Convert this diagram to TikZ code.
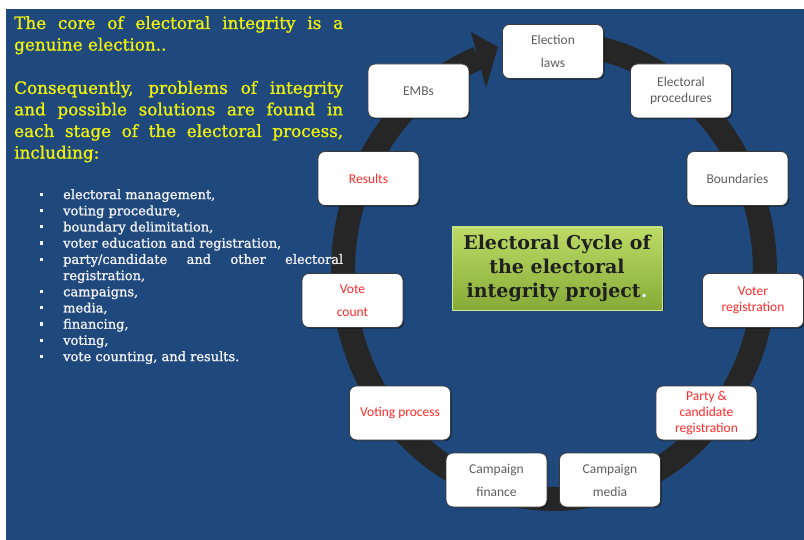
\documentclass[tikz,border=0pt]{standalone}
\usepackage{fontspec}
\setmainfont{DejaVu Serif}
\newfontfamily\heavyserif[FakeBold=1.2]{DejaVu Serif}
\newfontfamily\boxfont{Carlito}
\usetikzlibrary{shadows}
\definecolor{panelblue}{HTML}{1F497D}
\definecolor{ringgray}{HTML}{262626}
\definecolor{ytext}{HTML}{EEF010}
\definecolor{boxgray}{HTML}{5E5E5E}
\definecolor{boxred}{HTML}{FF2B2B}
\definecolor{boxborder}{HTML}{3A3A3A}
\definecolor{gtop}{HTML}{BCDB66}
\definecolor{gbot}{HTML}{87AB38}
\definecolor{listwhite}{HTML}{F2F2F6}
\newcommand{\bitem}[1]{\makebox[23pt][l]{\raisebox{3pt}{\rule{3.2pt}{3.2pt}}}#1}
\begin{document}
\begin{tikzpicture}[x=1pt,y=-1pt,
  stage/.style={draw=boxborder, line width=0.8pt, fill=white, rounded corners=7pt,
    minimum width=101pt, minimum height=54pt, inner sep=0pt, align=center,
    drop shadow={shadow xshift=1.2pt,shadow yshift=-1.2pt,fill=black,opacity=.45},
    font=\boxfont\fontsize{13.5}{16}\selectfont},
  widespace/.style={font=\boxfont\fontsize{13.5}{23}\selectfont},
  graytxt/.style={text=boxgray},
  redtxt/.style={text=boxred},
  titlebox/.style={draw=gtop!70!white, line width=0.6pt, top color=gtop, bottom color=gbot,
    minimum width=210pt, minimum height=83pt, inner sep=0pt, align=center,
    drop shadow={shadow xshift=1.5pt,shadow yshift=-1.5pt,fill=black,opacity=.4},
    text=black!88, font=\bfseries\fontsize{19}{24}\selectfont}]
\useasboundingbox (0,0) rectangle (804,540);
\fill[white] (0,0) rectangle (804,540);
\fill[panelblue] (6,9) rectangle (804,540);
% ring with arrow
\draw[ringgray, line width=24pt] plot[domain=-80:249, samples=160, smooth]
  ({554+211*cos(\x)}, {271+228*sin(\x)});
\fill[ringgray] (471,32) -- (498,47) -- (486,88) -- cycle;
% stages
\node[stage, widespace, graytxt] (elaws) at (553,51.5) {Election\\laws};
\node[stage, graytxt] (embs) at (418.5,91) {EMBs};
\node[stage, graytxt] (eproc) at (681,91) {Electoral\\procedures};
\node[stage, redtxt] (results) at (368.5,178.5) {Results};
\node[stage, graytxt] (bound) at (737.5,178.5) {Boundaries};
\node[stage, widespace, redtxt] (vcount) at (352.5,300.5) {Vote\\count};
\node[stage, redtxt] (vreg) at (753,300.5) {Voter\\registration};
\node[stage, redtxt] (vproc) at (400,413) {Voting process};
\node[stage, redtxt] (party) at (706.5,413) {Party \&\\candidate\\registration};
\node[stage, widespace, graytxt] (cfin) at (496.5,480) {Campaign\\finance};
\node[stage, widespace, graytxt] (cmedia) at (610,480) {Campaign\\media};
% title
\node[titlebox] (title) at (557,268.5) {Electoral Cycle of\\the electoral\\integrity project\textcolor{white!85!cyan}{.}};
% intro text
\node[anchor=north west, inner sep=0pt, text=ytext, align=left,
  font=\heavyserif\fontsize{16.8}{21.6}\selectfont] (intro) at (14,16) {%
\makebox[329pt][s]{The core of electoral integrity is a}\\
genuine election..\\[21.6pt]
\makebox[329pt][s]{Consequently, problems of integrity}\\
\makebox[329pt][s]{and possible solutions are found in}\\
\makebox[329pt][s]{each stage of the electoral process,}\\
including:};
% bullet list
\node[anchor=north west, inner sep=0pt, text=listwhite, align=left,
  font=\heavyserif\fontsize{13}{16.2}\selectfont] (list) at (40,189) {%
\bitem{electoral management,}\\
\bitem{voting procedure,}\\
\bitem{boundary delimitation,}\\
\bitem{voter education and registration,}\\
\bitem{\makebox[280pt][s]{party/candidate and other electoral}}\\
\hspace*{23pt}registration,\\
\bitem{campaigns,}\\
\bitem{media,}\\
\bitem{financing,}\\
\bitem{voting,}\\
\bitem{vote counting, and results.}};
\end{tikzpicture}
\end{document}
